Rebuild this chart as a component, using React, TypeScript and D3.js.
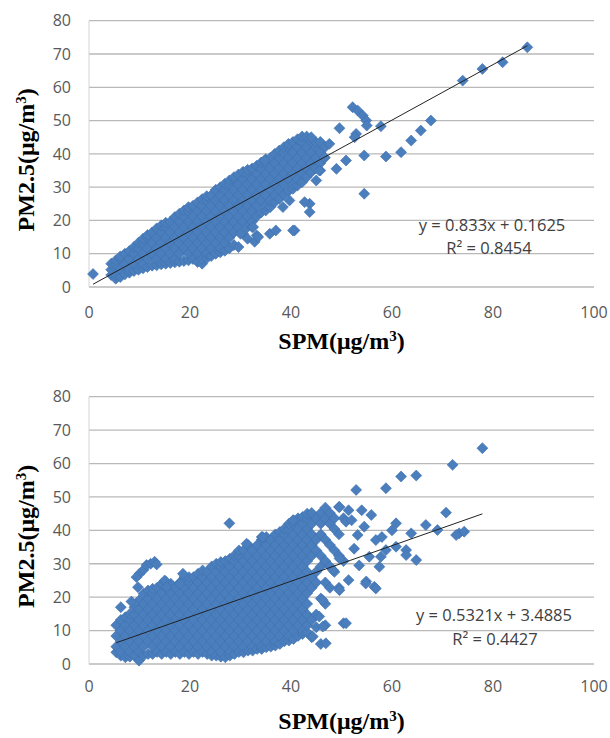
import React from 'react';
import * as d3 from 'd3';

// ---------- data ----------
const X_TICKS = [0, 20, 40, 60, 80, 100];
const Y_TICKS = [0, 10, 20, 30, 40, 50, 60, 70, 80];

// Upper panel: dense cloud read column by column [SPM, PM2.5 values]
const topBlob: [number, number[]][] = [
  [4.4, [3.6, 5.2, 7]],
  [5.3, [2.5, 3.6, 6.8, 8]],
  [6.2, [3, 5.2, 8.4, 9.2]],
  [7.1, [3.8, 6.8, 10]],
  [8, [4.3, 5.2, 8.4, 10.8]],
  [8.9, [4.8, 6.8, 10, 12]],
  [9.8, [5.2, 8.4, 11.6, 13.3]],
  [10.7, [5.6, 6.8, 10, 13.2, 14.5]],
  [11.6, [6, 8.4, 11.6, 14.8, 15.6]],
  [12.5, [6.4, 10, 13.2, 16.4]],
  [13.4, [6.5, 8.4, 11.6, 14.8, 17.6]],
  [14.3, [6.8, 10, 13.2, 16.4, 18.5]],
  [15.2, [7, 8.4, 11.6, 14.8, 18, 19.3]],
  [16.1, [7.2, 10, 13.2, 16.4, 19.6]],
  [17, [7.4, 8.4, 11.6, 14.8, 18, 21]],
  [17.9, [7.6, 10, 13.2, 16.4, 19.6, 22]],
  [18.8, [7.8, 11.6, 14.8, 18, 21.2, 23]],
  [19.7, [8, 10, 13.2, 16.4, 19.6, 22.8, 24]],
  [20.6, [8.4, 11.6, 14.8, 18, 21.2, 24.4]],
  [21.5, [7.5, 10, 13.2, 16.4, 19.6, 22.8, 25.4]],
  [22.4, [7, 8.4, 11.6, 14.8, 18, 21.2, 24.4, 26.4]],
  [23.3, [8.6, 10, 13.2, 16.4, 19.6, 22.8, 26, 27.3]],
  [24.2, [9.3, 11.6, 14.8, 18, 21.2, 24.4, 27.6]],
  [25.1, [10, 13.2, 16.4, 19.6, 22.8, 26, 29.2]],
  [26, [10.4, 11.6, 14.8, 18, 21.2, 24.4, 27.6, 30]],
  [26.9, [10.9, 13.2, 16.4, 19.6, 22.8, 26, 29.2, 31]],
  [27.8, [11.6, 14.8, 18, 21.2, 24.4, 27.6, 30.8, 32]],
  [28.7, [12.6, 16.4, 19.6, 22.8, 26, 29.2, 32.4, 33]],
  [29.6, [12, 18, 21.2, 24.4, 27.6, 30.8, 33.8]],
  [30.5, [16, 19.6, 22.8, 26, 29.2, 32.4, 34.6]],
  [31.4, [14.5, 18, 21.2, 24.4, 27.6, 30.8, 34, 35.2]],
  [32.3, [18, 19.6, 22.8, 26, 29.2, 32.4, 35.6]],
  [33.2, [15.5, 21.2, 24.4, 27.6, 30.8, 34, 36.4]],
  [34.1, [22.4, 26, 29.2, 32.4, 35.6, 37.4]],
  [35, [23, 24.4, 27.6, 30.8, 34, 37.2, 38.4]],
  [35.9, [24, 26, 29.2, 32.4, 35.6, 38.8]],
  [36.8, [25.5, 27.6, 30.8, 34, 37.2, 40]],
  [37.7, [26.5, 29.2, 32.4, 35.6, 38.8, 41]],
  [38.6, [27.8, 30.8, 34, 37.2, 40.4, 42]],
  [39.5, [28.8, 32.4, 35.6, 38.8, 42, 43]],
  [40.4, [29.5, 30.8, 34, 37.2, 40.4, 43.6]],
  [41.3, [30.5, 32.4, 35.6, 38.8, 42, 44.4]],
  [42.2, [31.5, 34, 37.2, 40.4, 43.6, 45.2]],
  [43.1, [33, 35.6, 38.8, 42, 45.2]],
  [44, [34.5, 37.2, 40.4, 43.6]],
  [44.9, [35.6, 38.8, 42, 43.5]],
  [45.8, [35, 37.2, 40.4, 43.6]],
  [46.7, [38.8, 42]],
];

const topOutliers: [number, number][] = [
  [0.8, 3.9], [86.8, 72], [81.9, 67.5], [77.9, 65.5], [74, 62], [67.7, 50],
  [65.7, 47], [63.8, 44], [61.8, 40.5], [58.8, 39.2], [57.8, 48.3], [54.5, 39.5],
  [54.5, 28], [49.6, 47.7], [52.9, 46], [52.2, 54], [53.2, 53], [54.2, 51.5],
  [54.9, 50], [55, 48.5], [52.6, 45], [50.9, 38], [49, 35.5], [47.6, 43],
  [46.6, 39], [45.6, 35], [45, 32], [43.7, 25], [43.7, 22.5], [42.7, 25.5],
  [38.4, 24], [39.7, 26], [40.7, 17], [35.8, 16], [37, 17], [40.4, 17],
  [32.8, 13.6], [33.5, 15], [30, 16], [32.5, 18], [34.8, 38], [44, 45],
];

// Lower panel: dense cloud read column by column
const bottomBlob: [number, number[]][] = [
  [5.4, [3.5, 5.2, 8.4, 11.6]],
  [6.3, [2.5, 3.6, 6.8, 10, 13.2, 17]],
  [7.2, [2, 5.2, 8.4, 11.6, 14]],
  [8.1, [2.2, 3.6, 6.8, 10, 13.2, 15]],
  [9, [2.5, 5.2, 8.4, 11.6, 14.8, 17]],
  [9.9, [1, 3.6, 6.8, 10, 13.2, 16.4, 19]],
  [10.8, [2.5, 5.2, 8.4, 11.6, 14.8, 18, 21]],
  [11.7, [3, 6.8, 10, 13.2, 16.4, 19.6, 22]],
  [12.6, [3, 5.2, 8.4, 11.6, 14.8, 18, 21.2, 22.5]],
  [13.5, [3.6, 6.8, 10, 13.2, 16.4, 19.6, 22.8]],
  [14.4, [3, 5.2, 8.4, 11.6, 14.8, 18, 21.2, 24]],
  [15.3, [3.6, 6.8, 10, 13.2, 16.4, 19.6, 22.8, 24.5]],
  [16.2, [3, 5.2, 8.4, 11.6, 14.8, 18, 21.2, 24]],
  [17.1, [3.6, 6.8, 10, 13.2, 16.4, 19.6, 22.8]],
  [18, [3, 5.2, 8.4, 11.6, 14.8, 18, 21.2, 24.4]],
  [18.9, [3.6, 6.8, 10, 13.2, 16.4, 19.6, 22.8, 26]],
  [19.8, [3, 5.2, 8.4, 11.6, 14.8, 18, 21.2, 24.4, 26]],
  [20.7, [3.6, 6.8, 10, 13.2, 16.4, 19.6, 22.8, 26]],
  [21.6, [3, 5.2, 8.4, 11.6, 14.8, 18, 21.2, 24.4, 27]],
  [22.5, [3.6, 6.8, 10, 13.2, 16.4, 19.6, 22.8, 26, 28]],
  [23.4, [3, 5.2, 8.4, 11.6, 14.8, 18, 21.2, 24.4, 27.6]],
  [24.3, [2.5, 3.6, 6.8, 10, 13.2, 16.4, 19.6, 22.8, 26, 29.2]],
  [25.2, [2.5, 5.2, 8.4, 11.6, 14.8, 18, 21.2, 24.4, 27.6, 30]],
  [26.1, [2.2, 3.6, 6.8, 10, 13.2, 16.4, 19.6, 22.8, 26, 29.2, 30.5]],
  [27, [2, 5.2, 8.4, 11.6, 14.8, 18, 21.2, 24.4, 27.6, 30.8]],
  [27.9, [2.5, 3.6, 6.8, 10, 13.2, 16.4, 19.6, 22.8, 26, 29.2, 31.5]],
  [28.8, [3, 5.2, 8.4, 11.6, 14.8, 18, 21.2, 24.4, 27.6, 30.8, 32.5]],
  [29.7, [3.6, 6.8, 10, 13.2, 16.4, 19.6, 22.8, 26, 29.2, 32.4, 34]],
  [30.6, [3.5, 5.2, 8.4, 11.6, 14.8, 18, 21.2, 24.4, 27.6, 30.8, 34]],
  [31.5, [4, 6.8, 10, 13.2, 16.4, 19.6, 22.8, 26, 29.2, 32.4, 35.6]],
  [32.4, [4, 5.2, 8.4, 11.6, 14.8, 18, 21.2, 24.4, 27.6, 30.8, 34]],
  [33.3, [4.5, 6.8, 10, 13.2, 16.4, 19.6, 22.8, 26, 29.2, 32.4, 35.6]],
  [34.2, [4.5, 5.2, 8.4, 11.6, 14.8, 18, 21.2, 24.4, 27.6, 30.8, 34, 37.2, 38]],
  [35.1, [5, 6.8, 10, 13.2, 16.4, 19.6, 22.8, 26, 29.2, 32.4, 35.6, 38]],
  [36, [5.2, 8.4, 11.6, 14.8, 18, 21.2, 24.4, 27.6, 30.8, 34, 37.2]],
  [36.9, [5.5, 6.8, 10, 13.2, 16.4, 19.6, 22.8, 26, 29.2, 32.4, 35.6, 38.8]],
  [37.8, [6, 8.4, 11.6, 14.8, 18, 21.2, 24.4, 27.6, 30.8, 34, 37.2, 39.5]],
  [38.7, [6.8, 10, 13.2, 16.4, 19.6, 22.8, 26, 29.2, 32.4, 35.6, 38.8, 40.5]],
  [39.6, [7, 8.4, 11.6, 14.8, 18, 21.2, 24.4, 27.6, 30.8, 34, 37.2, 40.4, 42]],
  [40.5, [7.5, 10, 13.2, 16.4, 19.6, 22.8, 26, 29.2, 32.4, 35.6, 38.8, 42, 43]],
  [41.4, [8.4, 11.6, 14.8, 18, 21.2, 24.4, 27.6, 30.8, 34, 37.2, 40.4, 43.6]],
  [42.3, [9, 10, 13.2, 16.4, 19.6, 22.8, 26, 29.2, 32.4, 35.6, 38.8, 42, 44]],
  [43.2, [9.5, 11.6, 14.8, 18, 21.2, 24.4, 27.6, 30.8, 34, 37.2, 40.4, 43.6, 45]],
  [44.1, [8, 13.2, 22.8, 26, 32.4, 35.6, 38.8, 42, 45.2]],
  [45, [11, 14.8, 24.4, 27.6, 34, 37.2, 43.6]],
  [45.9, [6, 19.6, 29.2, 32.4, 38.8, 42, 45.2]],
  [46.8, [11.6, 18, 24.4, 30.8, 37.2, 43.6, 46.8]],
  [47.7, [22.8, 29.2, 35.6, 42, 45.2]],
  [48.6, [27.6, 34, 40.4, 43.6]],
  [49.5, [22.8, 32.4, 38.8, 47]],
  [50.4, [12.2, 30.8, 43.6]],
];

const bottomOutliers: [number, number][] = [
  [8.4, 18.7], [10, 27], [10.8, 28.2], [11.4, 29.6], [12.2, 30], [13, 30.6],
  [13.4, 29.8], [9.4, 26], [9.7, 23], [15, 25], [18, 24], [18.6, 27], [15.4, 23],
  [27.8, 42.1], [31.2, 36], [34.4, 38], [40.4, 43],
  [52.9, 52.1], [58.8, 52.6], [61.8, 56.1], [64.8, 56.4], [72, 59.6], [77.9, 64.6],
  [70.7, 45.3], [73.3, 39.1], [74.3, 39.6], [72.7, 38.6], [69, 40.1], [66.7, 41.6],
  [63.8, 39.1], [60.8, 42.1], [55.9, 44.6], [62.8, 34.1], [62.8, 32.6], [64.8, 31.1],
  [54.9, 24.7], [56.5, 23.1], [50.9, 12.2], [57.8, 32.1], [50.9, 42.6], [54.5, 41.1],
  [53.2, 38.6], [56.8, 37.1], [60.8, 35.1], [58.8, 34.1], [55.5, 32.1], [57.5, 29.1],
  [51.4, 25.1], [54.8, 24.1], [56.8, 22.6], [49.6, 22.1], [46.3, 19.1], [46.3, 11.2],
  [45.6, 14.2], [44.3, 8.2], [46.9, 6.2], [49.6, 31.6], [48.3, 28.1], [51.4, 46],
  [49.6, 47], [52, 43], [54, 46], [58, 38], [60, 40], [52.5, 34.5], [53.5, 29.5],
];

const topFit = { slope: 0.833, intercept: 0.1625 };
const bottomFit = { slope: 0.5321, intercept: 3.4885 };
const topEquation = 'y = 0.833x + 0.1625';
const topR2 = 'R² = 0.8454';
const bottomEquation = 'y = 0.5321x + 3.4885';
const bottomR2 = 'R² = 0.4427';

// ---------- drawing ----------
const X_LEFT = 89;
const X_RIGHT = 594;
const xScale = d3.scaleLinear().domain([0, 100]).range([X_LEFT, X_RIGHT]);
const diamond = d3.symbol(d3.symbolSquare, 60)() as string;

type PanelProps = {
  y0: number;
  y80: number;
  blob: [number, number[]][];
  outliers: [number, number][];
  fit: { slope: number; intercept: number };
  eq: string;
  r2: string;
  eqPos: [number, number];
  r2Pos: [number, number];
  xTickY: number;
  xTitleY: number;
};

function Panel(p: PanelProps) {
  const yScale = d3.scaleLinear().domain([0, 80]).range([p.y0, p.y80]);
  const pts: [number, number][] = p.blob
    .flatMap(([x, ys]) => ys.map((y) => [x, y] as [number, number]))
    .concat(p.outliers);
  const xExt = d3.extent(pts, (d) => d[0]) as [number, number];
  const line = d3
    .line<number>()
    .x((x) => xScale(x))
    .y((x) => yScale(p.fit.slope * x + p.fit.intercept));
  const yMid = (p.y0 + p.y80) / 2;
  const tickFont = { fontFamily: 'Open Sans, sans-serif', fontSize: 16, fill: '#595959' };
  const titleFont = {
    fontFamily: '"Liberation Serif", "Times New Roman", serif',
    fontSize: 24,
    fontWeight: 700,
    fill: '#000',
  };
  const eqFont = { fontFamily: 'Open Sans, sans-serif', fontSize: 16.5, fill: '#404040' };
  return (
    <g>
      {Y_TICKS.map((t) => (
        <line
          key={'g' + t}
          x1={X_LEFT}
          x2={X_RIGHT}
          y1={yScale(t)}
          y2={yScale(t)}
          stroke="#b9b9b9"
          strokeWidth={1.3}
        />
      ))}
      <line x1={X_LEFT} x2={X_LEFT} y1={p.y80} y2={p.y0} stroke="#d4d4d4" strokeWidth={1} />
      {Y_TICKS.map((t) => (
        <text key={'yt' + t} x={71} y={yScale(t)} dy="0.36em" textAnchor="end" {...tickFont}>
          {t}
        </text>
      ))}
      {X_TICKS.map((t) => (
        <text key={'xt' + t} x={xScale(t)} y={p.xTickY} textAnchor="middle" {...tickFont}>
          {t}
        </text>
      ))}
      {pts.map((d, i) => (
        <path
          key={i}
          d={diamond}
          transform={`translate(${xScale(d[0])},${yScale(d[1])}) rotate(45)`}
          fill="#4a7ebd"
          stroke="#3f70ae"
          strokeWidth={0.6}
        />
      ))}
      <path d={line(xExt) as string} fill="none" stroke="#222" strokeWidth={1} />
      <text x={p.eqPos[0]} y={p.eqPos[1]} textAnchor="middle" {...eqFont}>
        {p.eq}
      </text>
      <text x={p.r2Pos[0]} y={p.r2Pos[1]} textAnchor="middle" {...eqFont}>
        {p.r2}
      </text>
      <text x={(X_LEFT + X_RIGHT) / 2} y={p.xTitleY} textAnchor="middle" {...titleFont}>
        SPM(μg/m<tspan baselineShift="super" fontSize={15}>3</tspan>)
      </text>
      <text
        transform={`translate(33.5,${yMid + 6}) rotate(-90)`}
        textAnchor="middle"
        {...titleFont}
      >
        PM2.5(μg/m<tspan baselineShift="super" fontSize={15}>3</tspan>)
      </text>
    </g>
  );
}

export default function App() {
  return (
    <svg
      width={610}
      height={738}
      style={{ position: 'absolute', left: 0, top: 0, background: '#fff' }}
    >
      <rect width={610} height={738} fill="#fff" />
      <Panel
        y0={287}
        y80={20.7}
        blob={topBlob}
        outliers={topOutliers}
        fit={topFit}
        eq={topEquation}
        r2={topR2}
        eqPos={[492, 231]}
        r2Pos={[489, 254]}
        xTickY={318}
        xTitleY={349}
      />
      <Panel
        y0={664}
        y80={396.7}
        blob={bottomBlob}
        outliers={bottomOutliers}
        fit={bottomFit}
        eq={bottomEquation}
        r2={bottomR2}
        eqPos={[494, 621]}
        r2Pos={[495, 645]}
        xTickY={692}
        xTitleY={729}
      />
    </svg>
  );
}
